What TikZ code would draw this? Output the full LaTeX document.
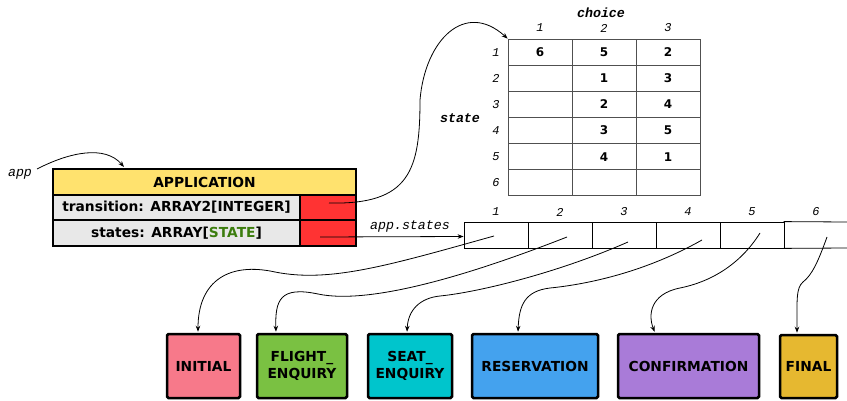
\documentclass[tikz,border=0pt]{standalone}
\usepackage{fontspec}
\setmainfont{DejaVu Sans}
\newfontfamily\monofam{Liberation Mono}
\usetikzlibrary{arrows.meta}
\definecolor{appyellow}{HTML}{FFE26E}
\definecolor{appgray}{HTML}{E8E8E8}
\definecolor{appred}{HTML}{FF3333}
\definecolor{stategreen}{HTML}{3C7D0E}
\definecolor{cinitial}{HTML}{F7798A}
\definecolor{cflight}{HTML}{7AC142}
\definecolor{cseat}{HTML}{00C5CC}
\definecolor{cres}{HTML}{44A2EE}
\definecolor{cconf}{HTML}{A97BD8}
\definecolor{cfinal}{HTML}{E6B830}
\definecolor{gridgray}{HTML}{505050}
\newcommand\bxfont{\fontsize{13.8}{17}\selectfont\bfseries}
\newcommand\numfont{\fontsize{12}{14}\selectfont\bfseries}
\newcommand\idxfont{\monofam\itshape\fontsize{12}{14}\selectfont}
\newcommand\lblfont{\monofam\itshape\fontsize{13.3}{15}\selectfont}
\newcommand\lblbfont{\monofam\bfseries\itshape\fontsize{13.3}{15}\selectfont}
\begin{document}
\begin{tikzpicture}[x=1pt,y=-1pt,
  appcell/.style={draw=black, line width=2pt, inner sep=0pt, font=\bxfont},
  tcell/.style={draw=gridgray, line width=0.8pt, minimum width=64pt, minimum height=26.15pt, inner sep=0pt, font=\numfont},
  acell/.style={line width=0.8pt, minimum width=64pt, minimum height=26pt, inner sep=0pt},
  idx/.style={font=\idxfont, inner sep=0pt},
  statebox/.style={draw=black, line width=2.5pt, rounded corners=1.5pt, minimum height=64pt, inner sep=0pt, align=center, font=\bxfont},
  conn/.style={line width=0.8pt, -{Stealth[length=6pt,width=4.5pt]}}
]
\useasboundingbox (0,0) rectangle (847,401);

% application object
\node[appcell, fill=appyellow, minimum width=303pt, minimum height=26pt] (app) at (204.5,182) {APPLICATION};
\node[appcell, fill=appgray, minimum width=247pt, minimum height=25pt] (tr) at (176.5,207.5) {transition: ARRAY2[INTEGER]};
\node[appcell, fill=appred, minimum width=56pt, minimum height=25pt] (trv) at (328,207.5) {};
\node[appcell, fill=appgray, minimum width=247pt, minimum height=26pt] (st) at (176.5,233) {states: ARRAY[\textcolor{stategreen}{STATE}]};
\node[appcell, fill=appred, minimum width=56pt, minimum height=26pt] (stv) at (328,233) {};

\node[font=\lblfont, inner sep=0pt] (applbl) at (20,174) {app};
\coordinate (appstart) at (37,169);
\draw[conn] (appstart) .. controls (70,152) and (105,145) .. ([xshift=-80.5pt,yshift=1pt]app.north);

% transition table
\node[font=\lblbfont, inner sep=0pt] (choice) at (601,13) {choice};
\node[font=\lblbfont, inner sep=0pt] (statelbl) at (460,118) {state};
\foreach \c in {1,2,3} {
  \node[idx] (ch\c) at (540+64*\c-64,28) {\c};
}
\foreach \r in {1,...,6} {
  \node[idx] (sr\r) at (496,52.07+26.15*\r-26.15) {\r};
  \foreach \c in {1,2,3} {
    \node[tcell] (t-\r-\c) at (540+64*\c-64,52.07+26.15*\r-26.15) {};
  }
}
\node at (t-1-1) {\numfont 6};
\node at (t-1-2) {\numfont 5};
\node at (t-1-3) {\numfont 2};
\node at (t-2-2) {\numfont 1};
\node at (t-2-3) {\numfont 3};
\node at (t-3-2) {\numfont 2};
\node at (t-3-3) {\numfont 4};
\node at (t-4-2) {\numfont 3};
\node at (t-4-3) {\numfont 5};
\node at (t-5-2) {\numfont 4};
\node at (t-5-3) {\numfont 1};

\coordinate (trstart) at (329,203);
\draw[conn] (trstart) .. controls (410,205) and (420,170) .. (420,100)
  .. controls (425,40) and (465,0) .. (t-1-1.north west);

% states array
\node[font=\lblfont, inner sep=0pt] (aslbl) at (410,226) {app.states};
\foreach \i in {1,...,5} {
  \node[acell, draw=black] (a\i) at (496+64*\i-64,235) {};
}
\node[acell] (a6) at (816,235) {};
\draw[line width=0.8pt] (a6.north west) -- (847,222);
\draw[line width=0.8pt] (a6.south west) -- (847,248);
\foreach \i in {1,...,6} {
  \node[idx] (ai\i) at (496+64*\i-64,212) {\i};
}
\coordinate (svstart) at (320,237);
\draw[conn] (svstart) -- ([yshift=-1.5pt]a1.west);

% state boxes
\node[statebox, fill=cinitial, minimum width=73pt] (b1) at (203.5,366) {INITIAL};
\node[statebox, fill=cflight, minimum width=90pt] (b2) at (302,366) {FLIGHT\_\\ENQUIRY};
\node[statebox, fill=cseat, minimum width=84pt] (b3) at (410,366) {SEAT\_\\ENQUIRY};
\node[statebox, fill=cres, minimum width=126pt] (b4) at (535,366) {RESERVATION};
\node[statebox, fill=cconf, minimum width=141pt] (b5) at (688.5,366) {CONFIRMATION};
\node[statebox, fill=cfinal, minimum width=57pt, minimum height=63pt] (b6) at (808.5,366.5) {FINAL};

% connectors from array cells to state boxes
\coordinate (p1) at (494,236);
\coordinate (p2) at (567,237);
\coordinate (p3) at (628,242);
\coordinate (p4) at (702,240);
\coordinate (p5) at (760,233);
\coordinate (p6) at (827,237);
\draw[conn, shorten >=1pt] (p1) .. controls (390,265) and (330,283) .. (275,272)
  .. controls (230,262) and (198,280) .. ([xshift=-5.5pt]b1.north);
\draw[conn, shorten >=1pt] (p2) .. controls (470,275) and (370,305) .. (318,294)
  .. controls (280,286) and (275,300) .. ([xshift=-26pt]b2.north);
\draw[conn, shorten >=1pt] (p3) .. controls (560,272) and (480,292) .. (440,296)
  .. controls (420,298) and (408,310) .. ([xshift=-3pt]b3.north);
\draw[conn, shorten >=1pt] (p4) .. controls (640,275) and (580,285) .. (550,288)
  .. controls (525,291) and (519,305) .. ([xshift=-17pt]b4.north);
\draw[conn, shorten >=1pt] (p5) .. controls (740,265) and (710,282) .. (680,288)
  .. controls (650,294) and (648,315) .. ([xshift=-33.5pt]b5.north);
\draw[conn, shorten >=1pt] (p6) .. controls (818,262) and (812,275) .. (803,282)
  .. controls (796,288) and (797,300) .. ([xshift=-11.5pt]b6.north);
\end{tikzpicture}
\end{document}
